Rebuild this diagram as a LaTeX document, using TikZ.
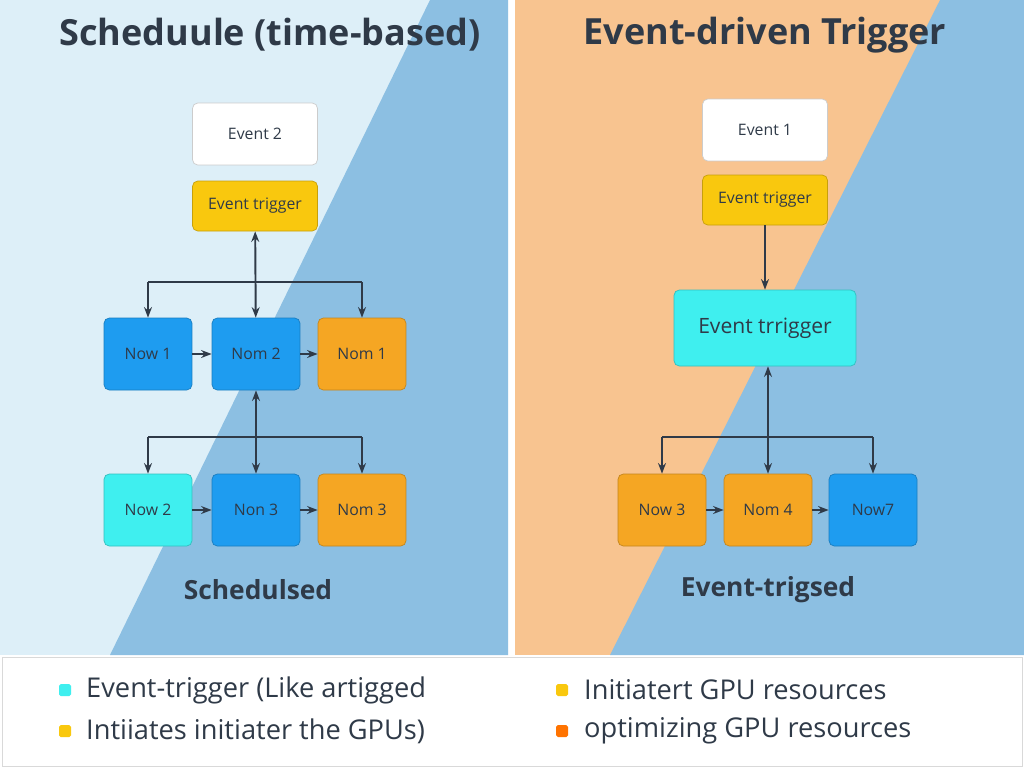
\documentclass[tikz,border=0pt]{standalone}
\usepackage{fontspec}
\setmainfont{Open Sans}
\usetikzlibrary{positioning,arrows.meta}
\definecolor{paleblue}{HTML}{DDEFF8}
\definecolor{deepblue}{HTML}{8CBFE2}
\definecolor{peach}{HTML}{F8C490}
\definecolor{boxblue}{HTML}{1E9CF0}
\definecolor{boxorange}{HTML}{F5A623}
\definecolor{boxcyan}{HTML}{3FEFEF}
\definecolor{boxyellow}{HTML}{F9C80E}
\definecolor{inkgrey}{HTML}{2F3A48}
\tikzset{
  box/.style={draw=#1!80!black, fill=#1, rounded corners=3pt, minimum width=1.76cm,
    minimum height=1.44cm, font=\fontsize{9}{11}\selectfont, text=inkgrey},
  card/.style={draw=gray!40, fill=white, rounded corners=3pt, minimum width=2.5cm,
    minimum height=1.24cm, font=\fontsize{9}{11}\selectfont, text=inkgrey},
  tag/.style={draw=boxyellow!80!black, fill=boxyellow, rounded corners=3pt, minimum width=2.5cm,
    minimum height=1cm, font=\fontsize{9}{11}\selectfont, text=inkgrey},
  link/.style={-{Stealth[length=6pt]}, line width=1.1pt, draw=inkgrey},
  title/.style={font=\fontsize{20.5}{24}\selectfont\bfseries, text=inkgrey},
  caption/.style={font=\fontsize{15}{18}\selectfont\bfseries, text=inkgrey},
  legend/.style={font=\fontsize{15.5}{18}\selectfont, text=inkgrey, anchor=west}
}
\begin{document}
\begin{tikzpicture}[x=0.02cm,y=-0.02cm]
\useasboundingbox (0,0) rectangle (1024,768);
% backgrounds
\fill[white] (0,0) rectangle (1024,768);
\fill[paleblue] (0,0) rectangle (508,655);
\fill[deepblue] (430,0) -- (508,0) -- (508,655) -- (110,655) -- cycle;
\fill[peach] (515,0) rectangle (1024,655);
\fill[deepblue] (940,0) -- (1024,0) -- (1024,655) -- (610,655) -- cycle;
\draw[gray!30] (2,657) rectangle (1022,766);

% titles
\node[title] (lefttitle) at (270,35) {Scheduule (time-based)};
\node[title] (righttitle) at (765,35) {Event-driven Trigger};

% left side
\node[card] (ev2) at (255,134) {Event 2};
\node[tag] (lt) at (255,206) {Event trigger};
\node[box=boxblue] (now1) at (148,354) {Now 1};
\node[box=boxblue] (nom2) at (256,354) {Nom 2};
\node[box=boxorange] (nom1) at (362,354) {Nom 1};
\node[box=boxcyan] (now2) at (148,510) {Now 2};
\node[box=boxblue] (non3) at (256,510) {Non 3};
\node[box=boxorange] (nom3) at (362,510) {Nom 3};
\coordinate (la) at (148,282); \coordinate (lb) at (362,282);
\coordinate (lc) at (148,437); \coordinate (ld) at (362,437);

\draw[link, {Stealth[length=6pt]}-{Stealth[length=6pt]}] (lt) -- (nom2);
\draw[line width=1.1pt, inkgrey] (la) -- (lb);
\draw[link] (la) -- (now1);
\draw[link] (lb) -- (nom1);
\draw[link, {Stealth[length=6pt]}-{Stealth[length=6pt]}] (nom2) -- (non3);
\draw[line width=1.1pt, inkgrey] (lc) -- (ld);
\draw[link] (lc) -- (now2);
\draw[link] (ld) -- (nom3);
\draw[link] (now1) -- (nom2);
\draw[link] (nom2) -- (nom1);
\draw[link] (now2) -- (non3);
\draw[link] (non3) -- (nom3);
\node[caption] (lcap) at (258,590) {Schedulsed};

% right side
\node[card] (ev1) at (765,130) {Event 1};
\node[tag] (rt) at (765,200) {Event trigger};
\node[box=boxcyan, minimum width=3.64cm, minimum height=1.52cm,
  font=\fontsize{12}{14}\selectfont] (big) at (765,328) {Event trrigger};
\node[box=boxorange] (now3) at (662,510) {Now 3};
\node[box=boxorange] (nom4) at (768,510) {Nom 4};
\node[box=boxblue] (now7) at (873,510) {Now7};
\coordinate (ra) at (662,437); \coordinate (rb) at (873,437);

\draw[link] (rt) -- (big);
\draw[link, {Stealth[length=6pt]}-{Stealth[length=6pt]}] (big.south -| nom4) -- (nom4);
\draw[line width=1.1pt, inkgrey] (ra) -- (rb);
\draw[link] (ra) -- (now3);
\draw[link] (rb) -- (now7);
\draw[link] (now3) -- (nom4);
\draw[link] (nom4) -- (now7);
\node[caption] (rcap) at (768,590) {Event-trigsed};

% legend
\fill[boxcyan, rounded corners=1pt] (59,684) rectangle (71,696);
\node[legend] (l1) at (80,690) {Event-trigger (Like artigged};
\fill[boxyellow, rounded corners=1pt] (59,725) rectangle (71,737);
\node[legend] (l2) at (80,731) {Intiiates initiater the GPUs)};
\fill[boxyellow, rounded corners=1pt] (556,684) rectangle (568,696);
\node[legend] (l3) at (578,690) {Initiatert GPU resources};
\fill[orange!90!red, rounded corners=1pt] (556,725) rectangle (568,737);
\node[legend] (l4) at (578,731) {optimizing GPU resources};
\end{tikzpicture}
\end{document}
